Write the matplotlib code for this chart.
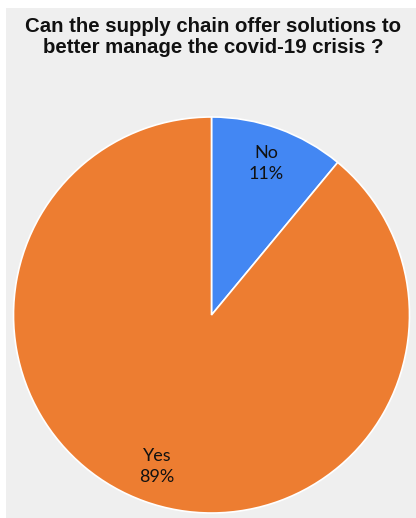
import matplotlib
matplotlib.use("Agg")
import matplotlib.pyplot as plt
from matplotlib.patches import Rectangle

labels = ["No", "Yes"]
shares = [11, 89]
colors = ["#4387F3", "#ED7D31"]
title = "Can the supply chain offer solutions to\nbetter manage the covid-19 crisis ?"

W, H = 416, 518
fig = plt.figure(figsize=(W / 100, H / 100), dpi=100)
fig.patch.set_facecolor("white")

# light grey chart panel
fig.patches.append(Rectangle((6 / W, 0), 1 - 6 / W, 1 - 8 / H,
                             transform=fig.transFigure, facecolor="#EFEFEF",
                             edgecolor="none", zorder=-5))

fig.text(213 / W, 1 - 37 / H, title, ha="center", va="center",
         fontsize=14.7, fontweight="bold", family="Liberation Sans",
         linespacing=1.15, color="#111111")

cx, cy, r = 211.5, 315, 198
ax = fig.add_axes([(cx - r) / W, (H - cy - r) / H, 2 * r / W, 2 * r / H])
ax.set_zorder(2)
ax.set_facecolor("none")

label_iter = iter(labels)
wedges, _, autotexts = ax.pie(
    shares, colors=colors, startangle=90, counterclock=False,
    autopct=lambda p: f"{next(label_iter)}\n{p:.0f}%",
    pctdistance=0.815, radius=1.0,
    wedgeprops=dict(edgecolor="white", linewidth=1.2),
    textprops=dict(fontsize=13, family="Lato", color="#111111"),
)
for t in autotexts:
    t.set_linespacing(1.4)
ax.set_xlim(-1, 1)
ax.set_ylim(-1, 1)
ax.set_aspect("equal")
ax.axis("off")

fig.savefig("out.png", dpi=100)
